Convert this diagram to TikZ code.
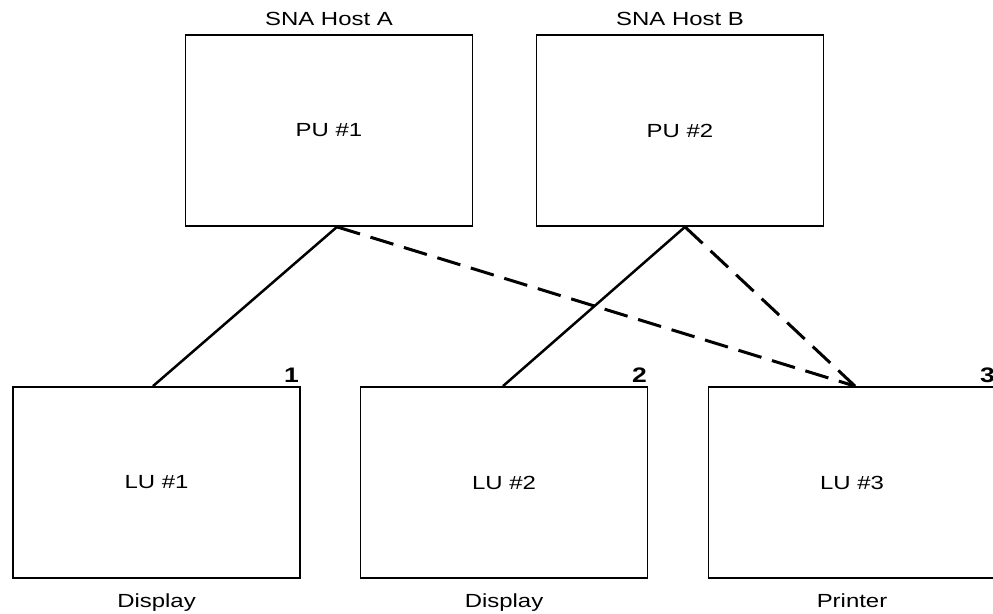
\documentclass[tikz,border=0pt]{standalone}
\usepackage{fontspec}
\setmainfont{Liberation Sans}
\usetikzlibrary{calc}
\newcommand{\widetxt}[1]{\scalebox{1.26}[1]{#1}}
\begin{document}
\begin{tikzpicture}[x=1pt,y=-1pt,
  box/.style={draw, line width=1.8pt, minimum width=287pt, minimum height=191pt, inner sep=0pt, font=\fontsize{19}{22}\selectfont},
  lbl/.style={font=\fontsize{19}{22}\selectfont, inner sep=0pt, anchor=base},
  num/.style={font=\fontsize{21}{24}\selectfont\bfseries, inner sep=0pt, anchor=base east},
  link/.style={line width=2.5pt},
  dlink/.style={line width=3pt, dash pattern=on 24pt off 11pt}]
\useasboundingbox (0,0) rectangle (993,613);
\clip (0,0) rectangle (993,613);
\node[box] (A) at (329,130.5) {\widetxt{PU \#1}};
\node[box] (B) at (680,130.5) {\widetxt{PU \#2}};
\node[box] (L1) at (156.5,482.5) {\widetxt{LU \#1}};
\node[box] (L2) at (504,482.5) {\widetxt{LU \#2}};
\node[box] (L3) at (852,482.5) {\widetxt{LU \#3}};
\node[lbl] (ha) at (329,25) {\widetxt{SNA Host A}};
\node[lbl] (hb) at (680,25) {\widetxt{SNA Host B}};
\node[num] (n1) at (299,382) {\widetxt{1}};
\node[num] (n2) at (647,382) {\widetxt{2}};
\node[num] (n3) at (995,382) {\widetxt{3}};
\node[lbl] (d1) at (156.5,607) {\widetxt{Display}};
\node[lbl] (d2) at (504,607) {\widetxt{Display}};
\node[lbl] (p3) at (852,607) {\widetxt{Printer}};
\coordinate (pa) at ([xshift=8pt]A.south);
\coordinate (pb) at ([xshift=5pt]B.south);
\coordinate (t1) at ([xshift=-3.5pt]L1.north);
\coordinate (t2) at ([xshift=-1pt]L2.north);
\coordinate (t3) at ([xshift=3pt]L3.north);
\draw[link] (pa) -- (t1);
\draw[link] (pb) -- (t2);
\draw[dlink] (pa) -- (t3);
\draw[dlink] (pb) -- (t3);
\end{tikzpicture}
\end{document}
